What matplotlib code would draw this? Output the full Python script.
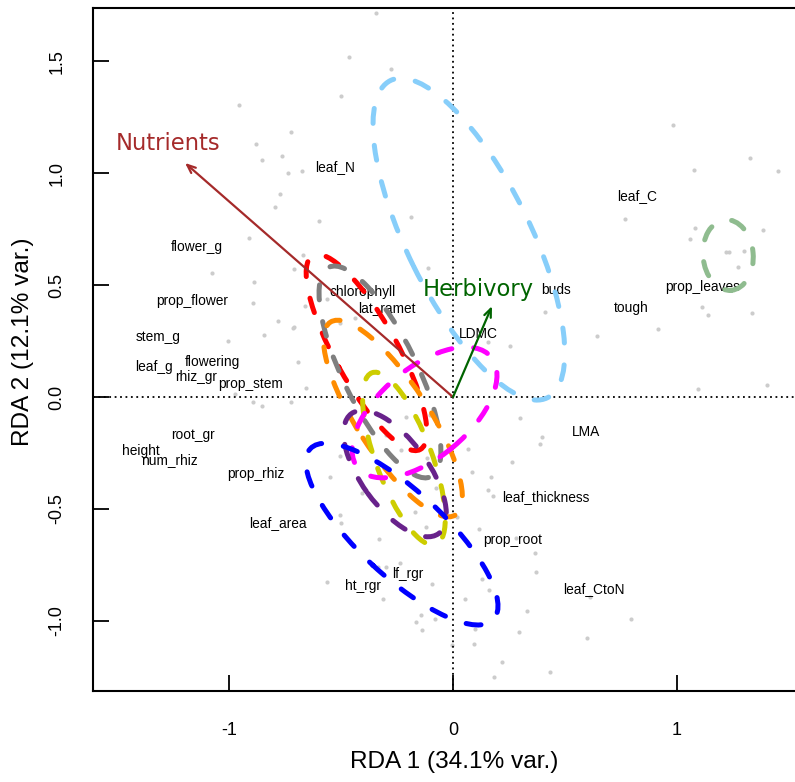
import matplotlib
matplotlib.use("Agg")
import matplotlib.pyplot as plt
from matplotlib.patches import Ellipse

plt.rcParams['font.family'] = ['Liberation Sans', 'DejaVu Sans']

# site scores (RDA1, RDA2)
site_x = [-0.344, -0.464, -0.277, -0.955, -0.500, -0.723, -0.879, -0.853, -0.763, -0.737,
          -0.674, -0.772, -0.795, -0.598, -0.188, -0.911, -1.076, -0.888, -0.710, -0.112,
          -0.893, -0.661, -0.781, -0.714, -0.844, -1.004, -0.692, -0.656, -0.063,
          0.982, 1.326, 1.076, 1.451, 0.768, 1.080, 1.384, 1.058, 1.219, 1.232,
          1.299, 1.272, 1.112, 1.138, 1.335, 0.411, 0.915, 0.643, 0.254, 0.156,
          1.094, 1.402,
          -0.973, -0.893, -0.853, -0.723, -0.504, -0.549, -0.406, -0.504, -0.500, -0.330,
          -0.335, -0.299, -0.237, -0.563, -0.094, -0.313, -0.143, -0.080, -0.165, -0.138,
          -0.004, -0.299, -0.232, -0.210, -0.121, -0.170, -0.076,
          0.299, 0.397, 0.388, 0.067, 0.263, 0.085, 0.170, 0.156, 0.179, 0.018,
          0.116, 0.281, 0.366, 0.371, 0.129, 0.161, 0.612, 0.054, 0.330, 0.795,
          0.098, 0.295, 0.598, 0.094, 0.219, 0.433, 0.183,
          -0.670, -0.563, -0.710, -0.504, -0.438, -0.116, -0.103]
site_y = [1.714, 1.518, 1.464, 1.304, 1.344, 1.183, 1.129, 1.058, 1.076, 1.000,
          1.009, 0.906, 0.848, 0.786, 0.804, 0.710, 0.554, 0.513, 0.571, 0.576,
          0.420, 0.406, 0.339, 0.308, 0.277, 0.250, 0.156, 0.040, 0.201,
          1.214, 1.067, 1.013, 1.009, 0.795, 0.754, 0.746, 0.705, 0.647, 0.647,
          0.652, 0.580, 0.402, 0.366, 0.375, 0.379, 0.304, 0.272, 0.228, 0.246,
          0.036, 0.054,
          0.013, -0.022, -0.040, -0.022, -0.263, -0.357, -0.429, -0.527, -0.562, -0.634,
          -0.759, -0.759, -0.741, -0.826, -0.835, -0.902, -0.973, -0.991, -1.004, -1.040,
          -1.107, -0.170, -0.237, -0.089, -0.580, -0.513, -0.406,
          -0.094, -0.179, -0.210, -0.232, -0.290, -0.335, -0.357, -0.415, -0.442, -0.536,
          -0.589, -0.629, -0.696, -0.781, -0.813, -0.862, -0.893, -0.902, -0.955, -0.991,
          -1.036, -1.049, -1.076, -1.103, -1.183, -1.228, -1.250,
          0.634, 0.438, 0.313, 0.330, 0.353, -0.272, -0.080]

# trait (species) scores shown as labels
traits = ['leaf_N', 'flower_g', 'prop_flower', 'stem_g', 'leaf_g', 'flowering', 'rhiz_gr',
          'prop_stem', 'chlorophyll', 'lat_ramet', 'buds', 'leaf_C', 'tough', 'prop_leaves',
          'LDMC', 'LMA', 'leaf_thickness', 'prop_root', 'leaf_CtoN', 'root_gr', 'height',
          'num_rhiz', 'prop_rhiz', 'leaf_area', 'ht_rgr', 'lf_rgr']
trait_x = [-0.525, -1.143, -1.165, -1.315, -1.333, -1.076, -1.145, -0.902, -0.404, -0.297,
           0.462, 0.824, 0.795, 1.114, 0.114, 0.592, 0.413, 0.268, 0.627, -1.161, -1.393,
           -1.268, -0.879, -0.781, -0.404, -0.201]
trait_y = [1.027, 0.670, 0.429, 0.268, 0.134, 0.156, 0.089, 0.058, 0.469, 0.397,
           0.478, 0.897, 0.397, 0.491, 0.281, -0.155, -0.446, -0.638, -0.857, -0.170, -0.241,
           -0.281, -0.344, -0.563, -0.844, -0.790]

# constraining variables (biplot arrows)
env_names = ['Nutrients', 'Herbivory']
env_x = [-1.196, 0.174]
env_y = [1.045, 0.406]
env_lab_x = [-1.270, 0.112]
env_lab_y = [1.133, 0.478]
env_cols = ['#A52A2A', '#006400']

# group ellipses: centre, semi-axes, angle
ell_cols = ['#87CEFA', '#FF0000', '#7F7F7F', '#FF8C00', '#CDCD00', '#FF00FF', '#68228B', '#0000FF', '#8FBC8F']
ell_cx = [0.071, -0.386, -0.326, -0.268, -0.219, -0.127, -0.259, -0.228, 1.228]
ell_cy = [0.705, 0.199, 0.112, -0.096, -0.275, -0.069, -0.342, -0.612, 0.634]
ell_a = [0.79, 0.495, 0.52, 0.513, 0.409, 0.387, 0.331, 0.559, 0.112]
ell_b = [0.275, 0.14, 0.165, 0.16, 0.125, 0.20, 0.15, 0.19, 0.158]
ell_ang = [-63.7, -61, -64, -57, -69.6, 39.9, -54, -43, 5]

fig = plt.figure(figsize=(7.95, 7.82), dpi=100)
ax = fig.add_axes([93/795, 91/782, 722/795, 683/782])

ax.scatter(site_x, site_y, s=9, color='#cccccc', linewidths=0, zorder=1)

ax.axhline(0, color='black', lw=1.3, ls=(0, (1, 2)), zorder=2)
ax.axvline(0, color='black', lw=1.3, ls=(0, (1, 2)), zorder=2)

for t, x, y in zip(traits, trait_x, trait_y):
    ax.text(x, y, t, fontsize=9.9, ha='center', va='center', zorder=3)

for c, x, y, a, b, ang in zip(ell_cols, ell_cx, ell_cy, ell_a, ell_b, ell_ang):
    e = Ellipse((x, y), 2 * a, 2 * b, angle=ang, fill=False, edgecolor=c, lw=3.6,
                linestyle=(0, (3.0, 4.4)), zorder=4)
    e.set_capstyle('round')
    ax.add_patch(e)

for n, x, y, lx, ly, c in zip(env_names, env_x, env_y, env_lab_x, env_lab_y, env_cols):
    ax.annotate('', xy=(x, y), xytext=(0, 0),
                arrowprops=dict(arrowstyle='->,head_length=0.6,head_width=0.25', color=c, lw=1.6,
                                shrinkA=0, shrinkB=0), zorder=5)
    ax.text(lx, ly, n, color=c, fontsize=16.3, family='DejaVu Sans', ha='center', va='center', zorder=5)

ax.set_xlim(-1.607, 1.616)
ax.set_ylim(-1.3125, 1.737)
ax.set_xticks([-1, 0, 1])
ax.set_xticklabels(['-1', '0', '1'])
ax.set_yticks([-1.0, -0.5, 0.0, 0.5, 1.0, 1.5])
ax.set_yticklabels(['-1.0', '-0.5', '0.0', '0.5', '1.0', '1.5'], rotation=90, va='center')
ax.tick_params(direction='in', length=11.5, width=1.3, labelsize=13, pad=22)
ax.tick_params(axis='y', pad=20)
for s in ax.spines.values():
    s.set_linewidth(1.5)

ax.set_xlabel('RDA 1 (34.1% var.)', fontsize=17.6)
ax.set_ylabel('RDA 2 (12.1% var.)', fontsize=17.6)
ax.xaxis.set_label_coords(0.5, -0.088)
ax.yaxis.set_label_coords(-0.082, 0.512)

fig.savefig('out.png', dpi=100)
